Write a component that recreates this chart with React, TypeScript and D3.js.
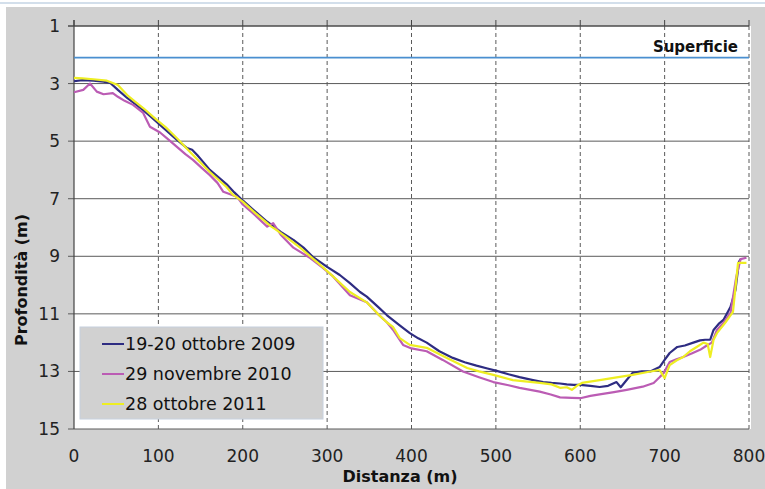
import { useEffect } from 'react';
import * as d3 from 'd3';

// distance (m) / depth (m)
const dist2009 = [0, 10, 23, 35, 43, 52, 63, 72, 82, 92, 102, 112, 122, 134, 140, 146, 153, 161, 171, 181, 190, 200, 215, 229, 245, 260, 272, 283, 300, 315, 327, 339, 347, 360, 371, 386, 398, 408, 418, 433, 449, 463, 477, 490, 501, 515, 528, 544, 556, 566, 576, 584, 592, 600, 612, 623, 633, 643, 648, 655, 662, 673, 683, 694, 700, 706, 715, 724, 734, 742, 748, 754, 758, 764, 770, 778, 784, 788, 790];
const depth2009 = [2.92, 2.88, 2.9, 2.93, 2.98, 3.22, 3.5, 3.7, 3.92, 4.18, 4.44, 4.7, 4.96, 5.24, 5.3, 5.48, 5.72, 6.0, 6.25, 6.5, 6.78, 7.06, 7.45, 7.8, 8.15, 8.43, 8.7, 9.02, 9.37, 9.65, 9.93, 10.24, 10.4, 10.75, 11.05, 11.4, 11.67, 11.85, 12.0, 12.3, 12.53, 12.68, 12.8, 12.9, 12.98, 13.1, 13.2, 13.3, 13.37, 13.4, 13.42, 13.45, 13.47, 13.47, 13.5, 13.54, 13.5, 13.37, 13.55, 13.3, 13.05, 13.0, 13.0, 12.85, 12.6, 12.36, 12.15, 12.1, 12.0, 11.92, 11.9, 11.9, 11.56, 11.35, 11.2, 10.76, 10.17, 9.2, 9.1];

const dist2010 = [0, 11, 19, 27, 35, 46, 52, 60, 70, 82, 90, 102, 112, 122, 132, 141, 151, 161, 170, 177, 193, 200, 212, 229, 236, 245, 260, 280, 295, 307, 327, 347, 360, 371, 378, 390, 400, 418, 437, 461, 480, 497, 515, 528, 552, 565, 576, 590, 600, 612, 623, 640, 655, 674, 687, 694, 699, 706, 714, 722, 732, 742, 750, 756, 762, 770, 778, 785, 790, 797];
const depth2010 = [3.3, 3.22, 3.0, 3.28, 3.37, 3.33, 3.46, 3.6, 3.74, 4.02, 4.5, 4.7, 4.95, 5.2, 5.45, 5.65, 5.92, 6.18, 6.45, 6.76, 6.93, 7.2, 7.5, 7.97, 7.85, 8.25, 8.7, 9.06, 9.4, 9.7, 10.35, 10.6, 11.0, 11.3, 11.55, 12.08, 12.2, 12.3, 12.6, 13.0, 13.2, 13.37, 13.48, 13.57, 13.7, 13.8, 13.9, 13.92, 13.93, 13.85, 13.8, 13.72, 13.64, 13.53, 13.4, 13.2, 13.05, 12.67, 12.58, 12.5, 12.38, 12.25, 12.1, 12.0, 11.56, 11.3, 10.97, 9.7, 9.1, 9.05];

const dist2011 = [0, 10, 23, 39, 52, 63, 72, 82, 98, 110, 122, 141, 161, 181, 188, 200, 215, 229, 233, 238, 250, 268, 288, 307, 327, 347, 360, 371, 378, 386, 398, 418, 442, 466, 480, 497, 520, 552, 566, 576, 584, 590, 596, 602, 623, 645, 662, 680, 694, 700, 706, 714, 722, 730, 738, 746, 751, 754, 758, 762, 772, 781, 787, 797];
const depth2011 = [2.8, 2.82, 2.85, 2.9, 3.05, 3.4, 3.62, 3.85, 4.26, 4.55, 4.9, 5.48, 6.07, 6.6, 6.85, 7.1, 7.5, 7.85, 7.95, 8.05, 8.3, 8.7, 9.2, 9.7, 10.24, 10.6, 11.0, 11.3, 11.45, 11.84, 12.08, 12.18, 12.53, 12.88, 13.0, 13.12, 13.3, 13.4, 13.45, 13.57, 13.55, 13.64, 13.5, 13.4, 13.3, 13.2, 13.12, 13.02, 12.95, 13.23, 12.78, 12.62, 12.5, 12.3, 12.15, 12.0, 12.05, 12.5, 11.9, 11.67, 11.3, 10.93, 9.23, 9.23];

const surfaceDepth = 2.1;
const xTicks = [0, 100, 200, 300, 400, 500, 600, 700, 800];
const yTicks = [1, 3, 5, 7, 9, 11, 13, 15];

const seriesNames = ['19-20 ottobre 2009', '29 novembre 2010', '28 ottobre 2011'];
const seriesColors = ['#2e2c82', '#bb5cb4', '#eeee22'];

const W = 765;
const H = 489;
const PLOT = { left: 74, right: 749, top: 26, bottom: 429 };
const FONT = '"DejaVu Sans", sans-serif';

export default function App() {
  useEffect(() => {
    document.body.style.margin = '0';
  }, []);

  const x = d3.scaleLinear().domain([0, 800]).range([PLOT.left, PLOT.right]);
  const y = d3.scaleLinear().domain([1, 15]).range([PLOT.top, PLOT.bottom]);

  const line = d3.line<[number, number]>()
    .x((d) => x(d[0]))
    .y((d) => y(d[1]));

  const series = [
    d3.zip(dist2009, depth2009) as [number, number][],
    d3.zip(dist2010, depth2010) as [number, number][],
    d3.zip(dist2011, depth2011) as [number, number][],
  ];

  const legendX = 80;
  const legendY = 327;

  return (
    <svg width={W} height={H} style={{ display: 'block', fontFamily: FONT }}>
      <rect x={0} y={0} width={W} height={H} fill="#fff" />
      <line x1={0} x2={W} y1={3} y2={3} stroke="#c5d5e5" strokeWidth={1.5} />
      <rect x={6} y={7} width={W - 6} height={H - 7} fill="#d1d1d1" />
      <rect x={PLOT.left} y={PLOT.top} width={PLOT.right - PLOT.left + 2} height={PLOT.bottom - PLOT.top} fill="#fff" />

      {/* horizontal grid */}
      {yTicks.map((t) => (
        <line key={'h' + t} x1={PLOT.left - 6} x2={PLOT.right} y1={y(t)} y2={y(t)} stroke="#5a5a5a" strokeWidth={1} />
      ))}
      {/* vertical dashed grid */}
      {xTicks.map((t) => (
        <g key={'v' + t}>
          {t > 0 && (
            <line x1={x(t)} x2={x(t)} y1={PLOT.top} y2={PLOT.bottom} stroke="#5a5a5a" strokeWidth={1} strokeDasharray="4,3" />
          )}
          <line x1={x(t)} x2={x(t)} y1={PLOT.top - 6} y2={PLOT.top} stroke="#444" strokeWidth={1} />
        </g>
      ))}
      <line x1={PLOT.left} x2={PLOT.left} y1={PLOT.top - 6} y2={PLOT.bottom} stroke="#444" strokeWidth={1.2} />
      <line x1={PLOT.left - 6} x2={PLOT.right} y1={PLOT.top} y2={PLOT.top} stroke="#444" strokeWidth={1.2} />

      {/* tick labels */}
      {yTicks.map((t) => (
        <text key={'yl' + t} x={60} y={y(t) + 6} textAnchor="end" fontSize={17} fill="#222">{t}</text>
      ))}
      {xTicks.map((t) => (
        <text key={'xl' + t} x={x(t)} y={462} textAnchor="middle" fontSize={17} fill="#222">{t}</text>
      ))}

      {/* surface */}
      <line x1={PLOT.left} x2={PLOT.right} y1={y(surfaceDepth)} y2={y(surfaceDepth)} stroke="#4a8fd0" strokeWidth={1.6} />
      <text x={738} y={52} textAnchor="end" fontSize={15} fontWeight="bold" fill="#111">Superficie</text>

      {/* profiles */}
      {series.map((s, i) => (
        <path key={'s' + i} d={line(s) ?? ''} fill="none" stroke={seriesColors[i]} strokeWidth={2.2} strokeLinejoin="round" />
      ))}

      {/* axis titles */}
      <text x={400} y={482} textAnchor="middle" fontSize={16} fontWeight="bold" fill="#111">Distanza (m)</text>
      <text transform="translate(27,280) rotate(-90)" textAnchor="middle" fontSize={16} fontWeight="bold" fill="#111">Profondità (m)</text>

      {/* legend */}
      <rect x={legendX} y={legendY} width={243} height={92} fill="#d1d1d1" stroke="#c6d0de" strokeWidth={1} />
      {seriesNames.map((n, i) => (
        <g key={'lg' + i}>
          <line x1={legendX + 22} x2={legendX + 44} y1={legendY + 17 + i * 30} y2={legendY + 17 + i * 30} stroke={seriesColors[i]} strokeWidth={2} />
          <text x={legendX + 45} y={legendY + 23 + i * 30} fontSize={17.5} fill="#111">{n}</text>
        </g>
      ))}
    </svg>
  );
}
